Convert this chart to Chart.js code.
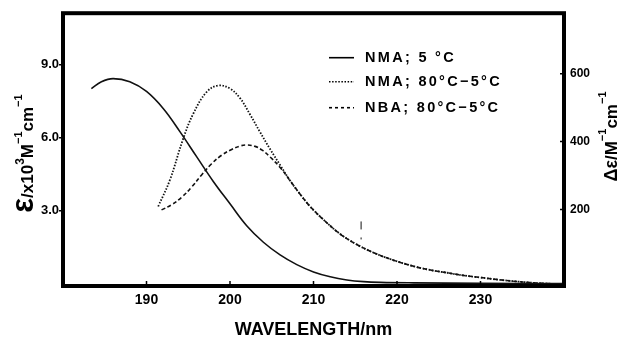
<!DOCTYPE html>
<html><head><meta charset="utf-8">
<script src="https://cdn.jsdelivr.net/npm/chart.js@4.4.1/dist/chart.umd.min.js"></script>
<style>html,body{margin:0;padding:0;background:#fff}#wrap{width:626px;height:338px}</style>
</head><body><div id="wrap"><canvas id="c" width="626" height="338"></canvas></div>
<script>
// ---- data ----
const nma5Wavelength = [183.4, 184.6, 186.0, 188.0, 190.0, 192.0, 194.0, 196.0, 198.0, 200.0, 202.0, 204.0, 206.0, 208.0, 210.0, 212.0, 214.0, 216.0, 218.0, 222.0, 230.0, 240.0];
const nma5Epsilon    = [8.02, 8.30, 8.43, 8.30, 7.90, 7.20, 6.25, 5.22, 4.20, 3.28, 2.38, 1.70, 1.18, 0.78, 0.48, 0.28, 0.15, 0.08, 0.05, 0.03, 0.01, 0.0];

const nmaDiffWavelength = [191.4, 192.8, 194.4, 195.6, 197.2, 198.6, 200.0, 201.2, 202.4, 203.6, 204.8, 206.0, 207.2, 208.4, 209.6, 211.2, 213.2, 215.2, 217.2, 219.2, 222.0, 224.0, 226.0, 228.0, 230.0, 232.0, 234.0, 236.0, 238.0, 240.0];
const nmaDiffDelta      = [209, 287, 409, 482, 546, 565, 556, 528, 480, 428, 378, 331, 285, 245, 209, 170, 128, 97, 73, 54, 33, 22, 14, 6, 0, -6, -11, -15, -18, -20];

const nbaDiffWavelength = [191.8, 193.0, 194.2, 195.4, 196.6, 197.8, 199.0, 200.2, 201.2, 202.0, 203.0, 203.9, 204.8, 206.0, 207.2, 208.4, 209.6, 211.2, 213.2, 215.2, 217.2, 219.2, 222.0, 224.0, 226.0, 228.0, 230.0, 232.0, 234.0, 236.0, 238.0, 240.0];
const nbaDiffDelta      = [199, 214, 236, 266, 302, 335, 360, 377, 387, 390, 386, 374, 355, 324, 285, 245, 209, 170, 128, 97, 73, 54, 33, 22, 14, 6, 0, -6, -11, -15, -18, -20];

const markerWavelength = [215.7, 215.7];
const markerDelta      = [165, 110];

const xTickValues  = [190, 200, 210, 220, 230];
const yTickValues  = [3, 6, 9];
const y2TickValues = [200, 400, 600];
const seriesLabels = ['NMA; 5 °C', 'NMA; 80°C\u22125°C', 'NBA; 80°C\u22125°C'];

const zip = (xs, ys) => xs.map((x, i) => ({x: x, y: ys[i]}));
const INK = '#111';
const FONT = '"Liberation Sans", Arial, sans-serif';

const datasets = [
  {label: seriesLabels[0], data: zip(nma5Wavelength, nma5Epsilon), yAxisID: 'y',
   borderColor: INK, borderWidth: 1.6, borderDash: [], tension: 0.4, pointRadius: 0},
  {label: seriesLabels[1], data: zip(nmaDiffWavelength, nmaDiffDelta), yAxisID: 'y2',
   borderColor: INK, borderWidth: 1.8, borderDash: [1.5, 1.6], tension: 0.4, pointRadius: 0},
  {label: seriesLabels[2], data: zip(nbaDiffWavelength, nbaDiffDelta), yAxisID: 'y2',
   borderColor: INK, borderWidth: 1.6, borderDash: [4, 2.5], tension: 0.4, pointRadius: 0},
  {label: 'marker', data: zip(markerWavelength, markerDelta), yAxisID: 'y2',
   borderColor: INK, borderWidth: 1, borderDash: [8, 8, 2, 30], pointRadius: 0}
];

const legendStyles = [[], [1.5, 1.6], [3, 3]];

const decor = {
  id: 'decor',
  afterDraw(chart) {
    const ctx = chart.ctx, a = chart.chartArea;
    const sx = chart.scales.x, sy = chart.scales.y, sy2 = chart.scales.y2;
    ctx.save();
    ctx.strokeStyle = '#000';
    ctx.lineWidth = 4;
    ctx.strokeRect(a.left, a.top, a.right - a.left, a.bottom - a.top);
    ctx.lineWidth = 1.5;
    ctx.beginPath();
    xTickValues.forEach(v => { const p = sx.getPixelForValue(v); ctx.moveTo(p, a.bottom); ctx.lineTo(p, a.bottom - 5); });
    yTickValues.forEach(v => { const p = sy.getPixelForValue(v); ctx.moveTo(a.left, p); ctx.lineTo(a.left - 4, p); });
    y2TickValues.forEach(v => { const p = sy2.getPixelForValue(v); ctx.moveTo(a.right, p); ctx.lineTo(a.right - 4, p); });
    ctx.stroke();

    // legend
    const rows = [57.7, 81.7, 107.7];
    ctx.fillStyle = '#000';
    ctx.font = 'bold 14.5px ' + FONT;
    ctx.textBaseline = 'middle';
    ctx.textAlign = 'left';
    ctx.letterSpacing = '2.3px';
    for (let i = 0; i < 3; i++) {
      ctx.beginPath();
      ctx.setLineDash(legendStyles[i]);
      ctx.lineWidth = 1.6;
      ctx.moveTo(329, rows[i]); ctx.lineTo(354, rows[i]);
      ctx.stroke();
      ctx.setLineDash([]);
      ctx.fillText(seriesLabels[i], 365, rows[i] + 0.5);
    }
    ctx.letterSpacing = '0px';

    // x title
    ctx.textAlign = 'center';
    ctx.textBaseline = 'alphabetic';
    ctx.font = 'bold 18px ' + FONT;
    ctx.fillText('WAVELENGTH/nm', (a.left + a.right) / 2, 335);

    const drawRotated = (segs, cy, baseX) => {
      ctx.save();
      ctx.translate(baseX, cy);
      ctx.rotate(-Math.PI / 2);
      ctx.textAlign = 'left';
      ctx.textBaseline = 'alphabetic';
      let total = 0;
      segs.forEach(s => { ctx.font = s.f; s.w = ctx.measureText(s.t).width; total += s.w; });
      let x = -total / 2;
      segs.forEach(s => { ctx.font = s.f; ctx.fillText(s.t, x, s.dy || 0); x += s.w; });
      ctx.restore();
    };
    drawRotated([
      {t: '\u03b5', f: 'bold 31px ' + FONT},
      {t: '/x10', f: 'bold 17px ' + FONT},
      {t: '3', f: 'bold 12px ' + FONT, dy: -9},
      {t: 'M', f: 'bold 17px ' + FONT},
      {t: '\u22121', f: 'bold 11px ' + FONT, dy: -11},
      {t: 'cm', f: 'bold 17px ' + FONT},
      {t: '\u22121', f: 'bold 11px ' + FONT, dy: -11}
    ], 153.5, 33);
    drawRotated([
      {t: '\u0394\u03b5', f: 'bold 18px ' + FONT},
      {t: '/M', f: 'bold 17px ' + FONT},
      {t: '\u22121', f: 'bold 11px ' + FONT, dy: -11},
      {t: 'cm', f: 'bold 17px ' + FONT},
      {t: '\u22121', f: 'bold 11px ' + FONT, dy: -11}
    ], 136.5, 617);
    ctx.restore();
  }
};

new Chart(document.getElementById('c'), {
  type: 'line',
  data: {datasets: datasets},
  options: {
    responsive: false, animation: false, devicePixelRatio: 1,
    layout: {padding: {top: 12, left: 0, right: 0, bottom: 0}},
    plugins: {legend: {display: false}, tooltip: {enabled: false}},
    scales: {
      x: {type: 'linear', min: 180, max: 240,
          afterBuildTicks: s => { s.ticks = xTickValues.map(v => ({value: v})); },
          afterFit: s => { s.height = 52; },
          grid: {display: false, drawTicks: false}, border: {display: false},
          ticks: {color: '#000', padding: 6, maxRotation: 0, font: {family: FONT, weight: 'bold', size: 14}}},
      y: {type: 'linear', position: 'left', min: -0.1, max: 11.12,
          afterBuildTicks: s => { s.ticks = yTickValues.map(v => ({value: v})); },
          afterFit: s => { s.width = 63; },
          grid: {display: false, drawTicks: false}, border: {display: false},
          ticks: {color: '#000', padding: 4, font: {family: FONT, weight: 'bold', size: 13},
                  callback: v => v.toFixed(1)}},
      y2: {type: 'linear', position: 'right', min: -25, max: 778,
          afterBuildTicks: s => { s.ticks = y2TickValues.map(v => ({value: v})); },
          afterFit: s => { s.width = 62; },
          grid: {display: false, drawTicks: false}, border: {display: false},
          ticks: {color: '#000', padding: 6, font: {family: FONT, weight: 'bold', size: 12}}}
    }
  },
  plugins: [decor]
});
</script>
</body></html>
